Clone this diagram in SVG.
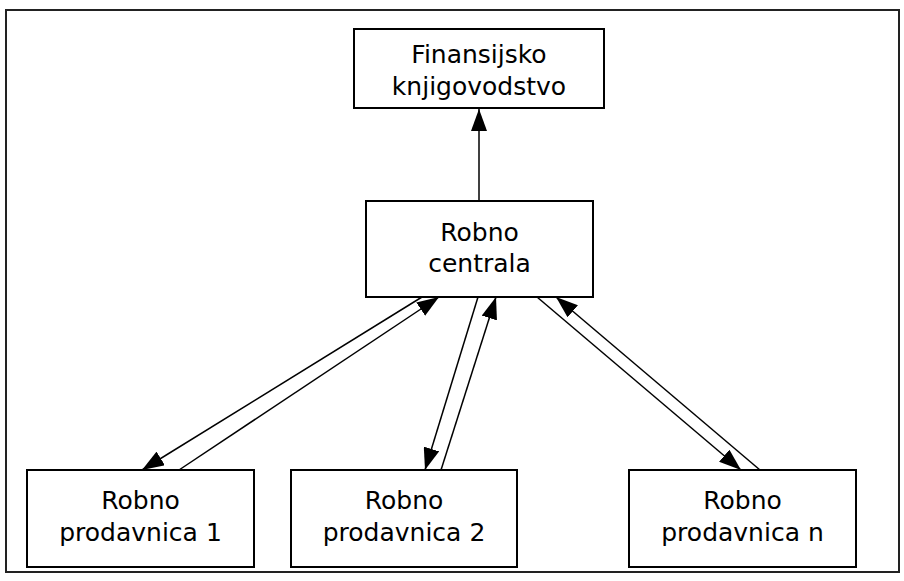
<svg xmlns="http://www.w3.org/2000/svg" width="904" height="581" viewBox="0 0 904 581">
<style>
.frame{fill:#fff;stroke:#222;stroke-width:2}
.box{fill:#fff;stroke:#000;stroke-width:2}
.lbl{font-family:"DejaVu Sans","Verdana",sans-serif;font-size:25px;fill:#000;text-anchor:middle}
.con{stroke:#000;stroke-width:1.5;fill:none;marker-end:url(#ah)}
</style>
<defs>
<marker id="ah" viewBox="0 0 22 16" refX="22" refY="8" markerWidth="22" markerHeight="16" markerUnits="userSpaceOnUse" orient="auto">
<path d="M0,0 L22,8 L0,16 z" fill="#000"/>
</marker>
</defs>
<rect class="frame" x="6" y="10" width="893" height="562"/>
<g id="connectors">
<line class="con" x1="479" y1="201" x2="479" y2="109"/>
<line class="con" x1="422" y1="297" x2="142" y2="470"/>
<line class="con" x1="179" y1="470" x2="439" y2="297"/>
<line class="con" x1="478" y1="297" x2="425" y2="470"/>
<line class="con" x1="441" y1="470" x2="496" y2="297"/>
<line class="con" x1="537" y1="297" x2="741" y2="470"/>
<line class="con" x1="760" y1="470" x2="556" y2="297"/>
</g>
<g id="finansijsko">
<rect class="box" x="354" y="29" width="250" height="79"/>
<text class="lbl" x="479" y="63">Finansijsko</text>
<text class="lbl" x="479" y="95">knjigovodstvo</text>
</g>
<g id="centrala">
<rect class="box" x="366" y="201" width="227" height="96"/>
<text class="lbl" x="479.5" y="241">Robno</text>
<text class="lbl" x="479.5" y="272">centrala</text>
</g>
<g id="prodavnica1">
<rect class="box" x="27" y="470" width="227" height="97"/>
<text class="lbl" x="140.5" y="509">Robno</text>
<text class="lbl" x="140.5" y="541">prodavnica 1</text>
</g>
<g id="prodavnica2">
<rect class="box" x="291" y="470" width="226" height="97"/>
<text class="lbl" x="404" y="509">Robno</text>
<text class="lbl" x="404" y="541">prodavnica 2</text>
</g>
<g id="prodavnican">
<rect class="box" x="629" y="470" width="227" height="97"/>
<text class="lbl" x="742.5" y="509">Robno</text>
<text class="lbl" x="742.5" y="541">prodavnica n</text>
</g>
</svg>
